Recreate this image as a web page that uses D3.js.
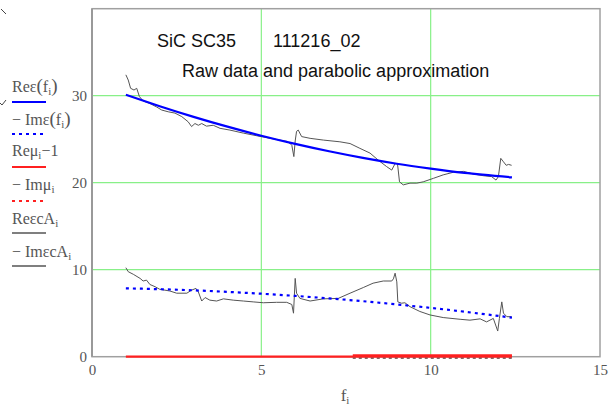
<!DOCTYPE html>
<html><head><meta charset="utf-8">
<script src="https://cdn.jsdelivr.net/npm/d3@7"></script>
<style>
html,body{margin:0;padding:0;background:#fff;}
svg{display:block;}
</style></head>
<body>
<svg id="c" width="612" height="407"></svg>
<script>
// ---- data ----
const xTicks = [0, 5, 10, 15];
const yTicks = [0, 10, 20, 30];
const fitFreq = [1, 2, 3, 4, 5, 6, 7, 8, 9, 10, 11, 12.4];
const reEpsFit = [30.10, 28.79, 27.57, 26.44, 25.40, 24.46, 23.61, 22.85, 22.18, 21.61, 21.12, 20.61];
const imEpsFit = [7.86, 7.76, 7.63, 7.45, 7.24, 6.99, 6.70, 6.38, 6.01, 5.61, 5.17, 4.49];
const muFreq = [1, 12.4];
const reMuMinus1 = [0, 0];
const imMuFreq = [7.7, 12.4];
const imMu = [0.15, 0.15];
const rawReFreq = [1.00,1.07,1.14,1.24,1.32,1.40,1.51,1.71,1.91,2.06,2.25,2.45,2.65,2.84,2.94,3.04,3.14,3.24,3.38,3.58,3.78,4.07,4.47,4.86,5.26,5.75,5.85,5.90,5.96,6.00,6.04,6.09,6.19,6.44,6.83,7.32,7.62,7.91,8.21,8.45,8.70,8.85,8.95,9.02,9.08,9.19,9.39,9.59,9.78,10.08,10.37,10.67,10.97,11.26,11.56,11.80,11.93,12.00,12.07,12.15,12.23,12.30,12.39];
const rawRe = [32.4,31.8,30.85,30.65,30.85,29.9,29.4,29.1,28.7,28.35,28.15,28.0,27.6,27.0,26.45,26.8,26.6,26.8,26.5,26.6,26.25,26.05,25.7,25.4,25.1,24.75,24.5,24.3,23.0,24.8,25.9,26.05,25.3,25.1,24.9,24.7,24.5,23.95,23.4,22.6,21.85,21.45,22.2,22.2,20.1,19.75,19.95,19.95,20.1,20.5,20.9,21.2,21.3,21.0,20.8,20.7,20.3,20.7,22.8,22.4,22.0,22.1,22.0];
const rawImFreq = [1.00,1.07,1.22,1.42,1.51,1.61,1.71,1.86,2.00,2.30,2.50,2.80,2.94,3.07,3.14,3.24,3.34,3.48,3.68,3.88,4.17,4.47,4.76,5.06,5.45,5.75,5.90,5.95,6.00,6.04,6.14,6.44,6.83,7.27,7.62,8.01,8.30,8.60,8.85,8.90,8.95,9.00,9.03,9.14,9.24,9.39,9.68,9.98,10.37,10.87,11.16,11.46,11.65,11.85,11.98,12.03,12.10,12.15,12.25,12.39];
const rawIm = [10.23,9.77,9.47,9.0,8.7,8.8,8.3,8.05,7.75,7.55,7.3,7.3,7.65,7.85,7.45,6.4,6.8,6.5,6.4,6.65,6.5,6.4,6.3,6.2,6.25,6.25,6.0,5.0,9.0,7.3,6.7,6.4,6.65,6.7,7.3,7.95,8.45,8.7,8.7,8.95,9.6,8.6,6.3,6.15,6.2,5.75,5.2,4.8,4.5,4.3,4.2,4.35,4.0,4.4,2.95,4.4,6.3,5.0,4.6,4.6];

// ---- layout ----
const svg = d3.select("#c");
const L = 92, R = 600, T = 8.7, B = 356.7;
const x = d3.scaleLinear().domain([0, 15]).range([L, R]);
const y = d3.scaleLinear().domain([0, 40]).range([B, T]);
const grid = "#88f088";
const frame = "#a0a0a0";
const txt = "#555";

// gridlines
svg.append("g").selectAll("line").data(xTicks.filter(d => d > 0 && d < 15)).join("line")
  .attr("x1", d => x(d)).attr("x2", d => x(d)).attr("y1", T).attr("y2", B)
  .attr("stroke", grid).attr("stroke-width", 1.2);
svg.append("g").selectAll("line").data(yTicks.filter(d => d > 0)).join("line")
  .attr("x1", L).attr("x2", R).attr("y1", d => y(d)).attr("y2", d => y(d))
  .attr("stroke", grid).attr("stroke-width", 1.2);

// frame
svg.append("rect").attr("x", L).attr("y", T).attr("width", R - L).attr("height", B - T)
  .attr("fill", "none").attr("stroke", frame).attr("stroke-width", 1.5);
svg.append("line").attr("x1", L).attr("x2", L).attr("y1", T).attr("y2", B)
  .attr("stroke", "#999").attr("stroke-width", 2);

// axes labels via d3 axes
const xAxis = d3.axisBottom(x).tickValues(xTicks).tickSize(0).tickPadding(8);
const gx = svg.append("g").attr("transform", `translate(0,${B})`).call(xAxis);
gx.select(".domain").remove();
gx.selectAll("text").attr("font-family", "Liberation Serif, Times New Roman, serif")
  .attr("font-size", 15).attr("fill", txt);
const yAxis = d3.axisLeft(y).tickValues(yTicks).tickSize(0).tickPadding(5);
const gy = svg.append("g").attr("transform", `translate(${L},0)`).call(yAxis);
gy.select(".domain").remove();
gy.selectAll("text").attr("font-family", "Liberation Serif, Times New Roman, serif")
  .attr("font-size", 15).attr("fill", txt);

// lines
const line = (fx, fy, curve) => d3.line().x((d, i) => x(fx[i])).y(d => y(d)).curve(curve || d3.curveLinear);
const plot = svg.append("g");
plot.append("path").attr("d", line(rawReFreq, rawRe)(rawRe))
  .attr("fill", "none").attr("stroke", "#555").attr("stroke-width", 1);
plot.append("path").attr("d", line(rawImFreq, rawIm)(rawIm))
  .attr("fill", "none").attr("stroke", "#555").attr("stroke-width", 1);
plot.append("path").attr("d", line(fitFreq, reEpsFit, d3.curveNatural)(reEpsFit))
  .attr("fill", "none").attr("stroke", "#0000ff").attr("stroke-width", 2.2);
plot.append("path").attr("d", line(fitFreq, imEpsFit, d3.curveNatural)(imEpsFit))
  .attr("fill", "none").attr("stroke", "#0000ff").attr("stroke-width", 2.2)
  .attr("stroke-dasharray", "3,4");
plot.append("path").attr("d", line(muFreq, reMuMinus1)(reMuMinus1))
  .attr("fill", "none").attr("stroke", "#ff2020").attr("stroke-width", 2.2);
plot.append("path").attr("d", line(imMuFreq, imMu)(imMu))
  .attr("fill", "none").attr("stroke", "#ff2020").attr("stroke-width", 2.5);
plot.append("path").attr("d", line(imMuFreq, reMuMinus1)(reMuMinus1))
  .attr("fill", "none").attr("stroke", "#552222").attr("stroke-width", 1)
  .attr("stroke-dasharray", "3,3").attr("transform", "translate(0,1.5)");

// titles
const sans = "Liberation Sans, Arial, sans-serif";
svg.append("text").attr("x", 157).attr("y", 47).attr("font-family", sans).attr("font-size", 18)
  .attr("fill", "#111").text("SiC SC35");
svg.append("text").attr("x", 273).attr("y", 47).attr("font-family", sans).attr("font-size", 18)
  .attr("fill", "#111").text("111216_02");
svg.append("text").attr("x", 182).attr("y", 77).attr("font-family", sans).attr("font-size", 18)
  .attr("fill", "#111").text("Raw data and parabolic approximation");

// x label
const serif = "Liberation Serif, Times New Roman, serif";
const xl = svg.append("text").attr("x", 345).attr("y", 401).attr("text-anchor", "middle")
  .attr("font-family", serif).attr("font-size", 17).attr("fill", txt);
xl.append("tspan").text("f");
xl.append("tspan").attr("font-size", 11).attr("dy", 3).text("i");

// legend: parts = [text, kind] kind 0 normal, 1 subscript, 2 big paren
const legend = [
  {parts: [["Reε", 0], ["(", 2], ["f", 0], ["i", 1], [")", 2]], ty: 92, ly: 102, color: "#0000ff", dash: null},
  {parts: [["− Imε", 0], ["(", 2], ["f", 0], ["i", 1], [")", 2]], ty: 125, ly: 134, color: "#0000ff", dash: "3,4"},
  {parts: [["Reμ", 0], ["i", 1], ["−1", 0]], ty: 156, ly: 167, color: "#ff2020", dash: null},
  {parts: [["− Imμ", 0], ["i", 1]], ty: 190, ly: 201, color: "#ff2020", dash: "3,4"},
  {parts: [["ReεcA", 0], ["i", 1]], ty: 224, ly: 233, color: "#555", dash: null, w: 1.3},
  {parts: [["− ImεcA", 0], ["i", 1]], ty: 257, ly: 266, color: "#555", dash: null, w: 1.3}
];
legend.forEach(d => {
  const t = svg.append("text").attr("x", 12).attr("y", d.ty).attr("font-family", serif)
    .attr("font-size", 16).attr("fill", txt);
  let sub = false;
  d.parts.forEach(p => {
    const ts = t.append("tspan").text(p[0]);
    if (p[1] === 1) { ts.attr("font-size", 11).attr("dy", 3); sub = true; }
    else {
      if (sub) { ts.attr("dy", -3); sub = false; }
      if (p[1] === 2) ts.attr("font-size", 19);
    }
  });
  svg.append("line").attr("x1", 12).attr("x2", 46).attr("y1", d.ly).attr("y2", d.ly)
    .attr("stroke", d.color).attr("stroke-width", d.w || 2.2)
    .attr("stroke-dasharray", d.dash);
});

// small editing artifacts at the left edge
svg.append("path").attr("d", "M1,9 L6,14").attr("stroke", "#444").attr("fill", "none").attr("stroke-width", 1);
svg.append("path").attr("d", "M0,103 L2,105 L6,100").attr("stroke", "#444").attr("fill", "none").attr("stroke-width", 1);
</script>
</body></html>
